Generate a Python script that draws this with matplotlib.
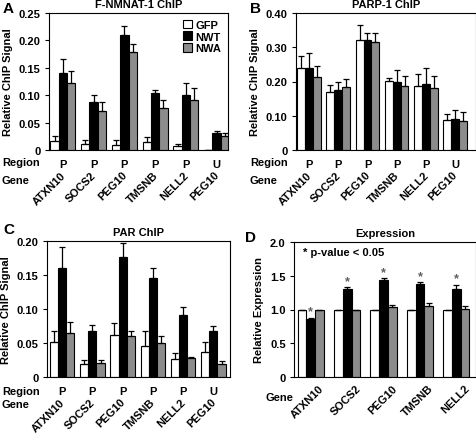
import matplotlib
matplotlib.use("Agg")
import matplotlib.pyplot as plt
import numpy as np

plt.rcParams['font.family'] = ['Liberation Sans', 'DejaVu Sans']
plt.rcParams['font.weight'] = 'bold'

genes_abc = ["ATXN10", "SOCS2", "PEG10", "TMSNB", "NELL2", "PEG10"]
regions_abc = ["P", "P", "P", "P", "P", "U"]
genes_d = ["ATXN10", "SOCS2", "PEG10", "TMSNB", "NELL2"]
series = ["GFP", "NWT", "NWA"]

# Panel A: F-NMNAT-1 ChIP
a_gfp = [0.017, 0.011, 0.010, 0.014, 0.007, 0.0]
a_gfp_err = [0.008, 0.007, 0.008, 0.009, 0.004, 0.0]
a_nwt = [0.140, 0.087, 0.210, 0.104, 0.101, 0.031]
a_nwt_err = [0.026, 0.014, 0.017, 0.005, 0.022, 0.003]
a_nwa = [0.123, 0.071, 0.178, 0.077, 0.091, 0.026]
a_nwa_err = [0.022, 0.016, 0.016, 0.015, 0.022, 0.005]

# Panel B: PARP-1 ChIP
b_gfp = [0.240, 0.169, 0.322, 0.202, 0.187, 0.087]
b_gfp_err = [0.034, 0.020, 0.043, 0.008, 0.035, 0.018]
b_nwt = [0.240, 0.176, 0.322, 0.200, 0.193, 0.090]
b_nwt_err = [0.044, 0.022, 0.020, 0.035, 0.045, 0.028]
b_nwa = [0.213, 0.185, 0.316, 0.187, 0.181, 0.084]
b_nwa_err = [0.031, 0.021, 0.027, 0.029, 0.036, 0.026]

# Panel C: PAR ChIP
c_gfp = [0.051, 0.019, 0.062, 0.046, 0.027, 0.037]
c_gfp_err = [0.016, 0.006, 0.018, 0.022, 0.009, 0.014]
c_nwt = [0.161, 0.068, 0.176, 0.145, 0.091, 0.067]
c_nwt_err = [0.030, 0.009, 0.021, 0.015, 0.012, 0.008]
c_nwa = [0.064, 0.021, 0.061, 0.050, 0.028, 0.019]
c_nwa_err = [0.017, 0.004, 0.007, 0.010, 0.001, 0.004]

# Panel D: Expression
d_gfp = [1.0, 1.0, 1.0, 1.0, 1.0]
d_gfp_err = [0.0, 0.0, 0.0, 0.0, 0.0]
d_nwt = [0.86, 1.31, 1.43, 1.38, 1.31]
d_nwt_err = [0.02, 0.02, 0.03, 0.03, 0.06]
d_nwa = [0.99, 0.99, 1.03, 1.05, 1.01]
d_nwa_err = [0.01, 0.01, 0.03, 0.05, 0.04]
d_sig = [True, True, True, True, True]

colors = ["white", "black", "#8c8c8c"]

fig = plt.figure(figsize=(4.77, 4.35), dpi=100)

W, H = 477, 435
def rect(l, t, r, b):
    return [l / W, 1 - b / H, (r - l) / W, (b - t) / H]

axA = fig.add_axes(rect(49, 14, 228, 151))
axB = fig.add_axes(rect(296, 14, 476, 151))
axC = fig.add_axes(rect(47, 242, 230, 378))
axD = fig.add_axes(rect(294, 243, 476, 378))

FS = 8

def draw(ax, vals, errs, width, xlim, ylim, yticks, yticklabels, title, ylabel,
         genes, regions=None, lab_shift=0.15):
    x = np.arange(len(genes))
    for i, (v, e) in enumerate(zip(vals, errs)):
        xs = x + (i - 1) * width
        ax.bar(xs, v, width, color=colors[i], edgecolor="black", linewidth=0.8,
               label=series[i], zorder=2)
        ax.errorbar(xs, v, yerr=[np.zeros(len(e)), e], fmt="none", ecolor="black",
                    elinewidth=0.9, capsize=2.5, capthick=0.9, zorder=3)
    ax.set_xlim(*xlim)
    ax.set_ylim(*ylim)
    ax.set_yticks(yticks)
    ax.set_yticklabels(yticklabels, fontsize=FS, fontweight="bold")
    ax.set_title(title, fontsize=8, fontweight="bold", pad=4)
    ax.set_ylabel(ylabel, fontsize=8, fontweight="bold", labelpad=4)
    ax.tick_params(axis="y", direction="out", length=3, width=0.8, pad=3)
    ax.tick_params(axis="x", length=0)
    for s in ax.spines.values():
        s.set_linewidth(0.8)
    ax.set_xticks(x + lab_shift)
    if regions is not None:
        for xi, r in zip(x, regions):
            ax.annotate(r, xy=(xi, 0), xycoords=("data", "axes fraction"),
                        xytext=(0, -10), textcoords="offset points",
                        ha="center", va="center", fontsize=8, fontweight="bold")
        pad = 14
    else:
        pad = 4
    ax.set_xticklabels(genes, rotation=45, ha="right", va="top", fontsize=FS,
                       fontweight="bold")
    ax.tick_params(axis="x", pad=pad)

draw(axA, [a_gfp, a_nwt, a_nwa], [a_gfp_err, a_nwt_err, a_nwa_err], 0.27,
     (-0.45, 5.37), (0, 0.25), [0, 0.05, 0.10, 0.15, 0.20, 0.25],
     ["0", "0.05", "0.10", "0.15", "0.20", "0.25"], "F-NMNAT-1 ChIP",
     "Relative ChIP Signal", genes_abc, regions_abc)
draw(axB, [b_gfp, b_nwt, b_nwa], [b_gfp_err, b_nwt_err, b_nwa_err], 0.27,
     (-0.45, 5.72), (0, 0.40), [0, 0.10, 0.20, 0.30, 0.40],
     ["0", "0.10", "0.20", "0.30", "0.40"], "PARP-1 ChIP",
     "Relative ChIP Signal", genes_abc, regions_abc)
draw(axC, [c_gfp, c_nwt, c_nwa], [c_gfp_err, c_nwt_err, c_nwa_err], 0.27,
     (-0.5, 5.55), (0, 0.20), [0, 0.05, 0.10, 0.15, 0.20],
     ["0", "0.05", "0.10", "0.15", "0.20"], "PAR ChIP",
     "Relative ChIP Signal", genes_abc, regions_abc)
draw(axD, [d_gfp, d_nwt, d_nwa], [d_gfp_err, d_nwt_err, d_nwa_err], 0.24,
     (-0.46, 4.54), (0, 2.0), [0, 0.5, 1.0, 1.5, 2.0],
     ["0", "0.5", "1.0", "1.5", "2.0"], "Expression",
     "Relative Expression", genes_d, None, lab_shift=0.42)

# significance stars in D
for i, (v, e, s) in enumerate(zip(d_nwt, d_nwt_err, d_sig)):
    if s:
        axD.annotate("*", xy=(i, v + e), xytext=(0, 0), textcoords="offset points",
                     ha="center", va="bottom", fontsize=9, color="#606060",
                     fontweight="bold")
axD.text(0.05, 0.96, "* p-value < 0.05", transform=axD.transAxes, fontsize=8,
         fontweight="bold", ha="left", va="top")

# legend in A
axA.legend(loc="upper right", frameon=False, fontsize=8, handlelength=0.8,
           handleheight=0.8, handletextpad=0.3, labelspacing=0.15,
           borderaxespad=0.2, bbox_to_anchor=(1.0, 1.0))

# Region / Gene row labels
for y in (163, 392):
    fig.text(2 / W, 1 - y / H, "Region", fontsize=8, fontweight="bold",
             ha="left", va="center")
for y in (181, 405):
    fig.text(2 / W, 1 - y / H, "Gene", fontsize=8, fontweight="bold",
             ha="left", va="center")
fig.text(250 / W, 1 - 163 / H, "Region", fontsize=8, fontweight="bold",
         ha="left", va="center")
fig.text(250 / W, 1 - 181 / H, "Gene", fontsize=8, fontweight="bold",
         ha="left", va="center")
fig.text(266 / W, 1 - 398 / H, "Gene", fontsize=8, fontweight="bold",
         ha="left", va="center")

# panel letters
for lbl, (x, y) in zip("ABCD", [(3, 9), (250, 9), (3, 230), (245, 238)]):
    fig.text(x / W, 1 - y / H, lbl, fontsize=11, fontweight="bold",
             ha="left", va="center")

fig.savefig("out.png", dpi=100)
